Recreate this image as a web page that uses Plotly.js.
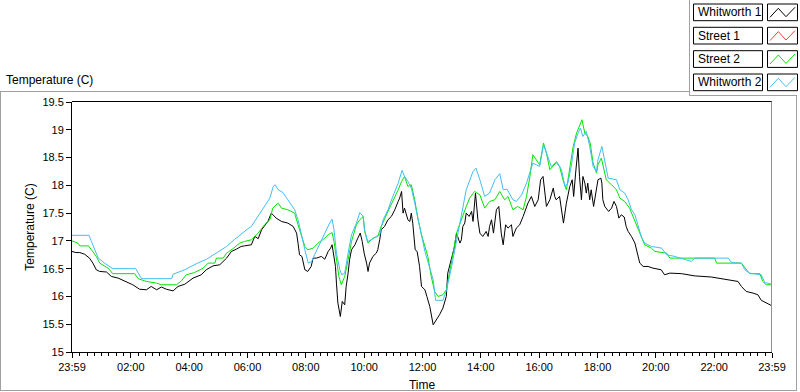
<!DOCTYPE html>
<html><head><meta charset="utf-8">
<script src="https://cdn.plot.ly/plotly-3.0.1.min.js"></script>
<style>html,body{margin:0;padding:0;background:#fff}#chart{width:800px;height:392px}</style>
</head><body><div id="chart"></div>
<script>
// Time = minutes after 23:59 (start of record); values in degrees C
const seriesNames = ["Whitworth 1", "Street 1", "Street 2", "Whitworth 2"];
const seriesColors = ["#000000", "#ff3b3b", "#00e600", "#42bdf5"];

const whitworth1T = [0,8,16,26,36,43,50,57,71,81,
95,112,125,139,153,163,174,184,194,208,
218,232,249,266,276,290,304,318,328,338,
348,355,369,376,383,390,396,403,410,420,
431,444,455,462,465,468,473,479,485,492,
496,503,513,520,527,532,535,539,542,544,
547,552,556,561,564,568,571,575,582,588,
593,597,601,606,609,612,619,626,629,633,
636,643,650,657,664,671,674,678,681,684,
691,695,698,701,706,710,715,719,726,730,
736,743,750,756,763,770,773,780,787,791,
798,801,804,808,811,817,822,825,828,830,
835,839,845,852,856,859,863,867,873,878,
883,887,892,897,904,907,914,921,928,933,
938,945,952,959,964,969,972,976,983,990,
993,996,1003,1007,1011,1017,1024,1029,1032,1036,
1041,1044,1048,1051,1055,1058,1061,1065,1068,1073,
1079,1082,1088,1090,1092,1096,1104,1110,1115,1120,
1125,1130,1136,1140,1144,1151,1158,1164,1168,1175,
1185,1195,1212,1219,1230,1254,1281,1315,1349,1370,
1377,1387,1401,1411,1418,1428,1440];
const whitworth1V = [16.81,16.79,16.79,16.76,16.69,16.60,16.48,16.45,16.44,16.36,
16.33,16.27,16.21,16.13,16.12,16.18,16.12,16.17,16.13,16.10,
16.18,16.22,16.33,16.39,16.48,16.55,16.57,16.69,16.81,16.85,
16.90,16.91,16.93,17.08,17.04,17.20,17.26,17.35,17.50,17.41,
17.35,17.32,17.26,17.14,16.96,16.75,16.72,16.48,16.45,16.54,
16.69,16.69,16.72,16.67,16.81,16.87,16.93,16.72,16.54,16.24,
15.88,15.64,15.91,15.85,16.18,16.42,16.66,16.84,16.93,17.05,
17.14,16.99,16.78,16.60,16.45,16.60,16.72,16.78,16.84,17.02,
17.20,17.26,17.38,17.44,17.56,17.71,17.77,17.89,17.50,17.59,
17.38,17.35,17.50,17.32,16.84,16.81,16.54,16.18,16.12,16.00,
15.82,15.49,15.58,15.67,15.79,16.00,16.42,16.66,16.90,17.14,
16.96,17.02,17.26,17.32,17.50,17.44,17.53,17.35,17.68,17.86,
17.38,17.14,17.08,17.17,17.08,17.26,17.38,17.14,17.56,17.62,
17.14,16.93,17.29,17.23,17.29,17.08,17.23,17.29,17.44,17.56,
17.68,17.80,17.62,17.74,18.10,18.16,17.92,17.62,17.74,17.95,
17.80,17.74,17.80,17.56,17.32,17.68,17.98,18.10,17.80,18.22,
18.67,18.16,17.74,18.16,18.04,17.86,18.04,17.74,17.92,17.62,
17.92,18.10,18.13,18.04,17.74,17.62,17.53,17.59,17.71,17.62,
17.41,17.47,17.43,17.26,17.17,17.08,16.96,16.72,16.60,16.54,
16.54,16.51,16.48,16.39,16.42,16.41,16.37,16.35,16.30,16.27,
16.18,16.09,16.06,16.03,15.93,15.89,15.83];

const street1T = [];
const street1V = [];

const street2T = [0,12,16,34,40,50,57,74,84,129,
136,153,174,184,215,225,235,252,270,280,
294,297,311,318,331,345,355,369,383,396,
407,413,424,431,444,458,465,472,479,485,
496,506,516,527,535,539,544,549,554,561,
568,575,585,592,599,602,609,619,629,636,
650,660,671,678,684,691,698,705,712,719,
726,732,739,746,753,763,770,777,784,791,
798,804,811,818,828,839,849,859,870,880,
890,897,907,917,928,935,942,948,957,962,
970,976,983,989,996,1003,1010,1017,1024,1031,
1038,1044,1049,1055,1061,1066,1072,1079,1082,1089,
1096,1099,1110,1120,1127,1137,1147,1154,1164,1171,
1178,1192,1199,1223,1230,1322,1326,1377,1387,1394,
1415,1421,1428,1440];
const street2V = [17.00,16.96,16.91,16.91,16.84,16.72,16.60,16.51,16.41,16.41,
16.32,16.27,16.24,16.21,16.21,16.28,16.39,16.43,16.51,16.60,
16.60,16.69,16.69,16.78,16.86,16.96,16.99,17.02,17.14,17.29,
17.38,17.59,17.68,17.59,17.56,17.50,17.29,17.11,16.90,16.84,
16.87,16.96,17.02,17.11,17.15,16.99,16.66,16.36,16.21,16.36,
16.66,16.99,17.29,17.38,17.44,17.17,16.96,17.05,17.08,17.26,
17.53,17.71,17.92,18.07,18.16,17.98,18.01,17.74,17.38,17.11,
16.88,16.72,16.36,16.09,16.00,16.03,16.12,16.42,16.78,17.14,
17.32,17.44,17.62,17.77,17.89,17.83,17.59,17.71,17.74,17.89,
17.74,17.80,17.56,17.62,17.56,17.80,18.16,18.55,18.43,18.37,
18.76,18.58,18.28,18.34,18.41,18.34,18.10,17.92,18.34,18.70,
18.94,19.06,19.18,18.94,18.88,18.76,18.40,18.22,18.37,18.49,
18.25,18.10,18.01,17.92,17.77,17.71,17.59,17.44,17.26,17.08,
16.93,16.87,16.81,16.78,16.69,16.69,16.60,16.60,16.48,16.41,
16.41,16.27,16.21,16.21];

const whitworth2T = [0,35,40,47,54,67,84,131,134,143,
205,208,232,256,277,297,318,335,355,362,
369,383,396,407,414,418,424,434,444,458,
465,472,479,486,493,499,510,520,530,535,
539,544,551,555,561,568,575,585,592,599,
602,608,616,626,633,640,650,660,671,679,
684,691,698,705,712,719,726,743,748,763,
770,781,791,801,811,825,831,839,849,859,
870,880,887,895,907,914,925,935,948,955,
962,970,976,986,997,1007,1014,1020,1027,1034,
1041,1046,1051,1058,1065,1072,1079,1082,1090,1096,
1103,1120,1127,1137,1144,1151,1158,1164,1171,1178,
1192,1213,1223,1240,1274,1281,1350,1357,1377,1384,
1394,1418,1425,1440];
const whitworth2V = [17.10,17.10,16.99,16.84,16.69,16.60,16.50,16.50,16.45,16.32,
16.32,16.40,16.48,16.59,16.67,16.78,16.90,17.03,17.18,17.22,
17.26,17.44,17.62,17.77,17.98,18.01,17.92,17.87,17.74,17.56,
17.38,17.08,16.84,16.60,16.63,16.75,16.96,17.14,17.32,17.39,
17.20,16.78,16.48,16.39,16.42,16.78,17.11,17.32,17.51,17.44,
17.20,16.99,17.02,17.08,17.11,17.38,17.56,17.80,18.04,18.27,
18.16,18.07,17.95,17.68,17.38,17.08,16.81,16.30,15.93,15.93,
16.10,16.54,17.02,17.50,17.92,18.25,18.31,18.10,17.80,17.86,
18.10,18.21,17.92,17.93,17.74,17.71,17.83,18.04,18.40,18.37,
18.34,18.73,18.58,18.34,18.43,18.28,17.98,18.04,18.34,18.76,
18.94,19.03,18.88,18.97,18.70,18.34,18.25,18.46,18.70,18.43,
18.13,18.10,17.92,17.86,17.74,17.56,17.47,17.29,17.08,16.96,
16.90,16.87,16.75,16.72,16.63,16.69,16.69,16.61,16.60,16.48,
16.42,16.39,16.25,16.22];

const xTickVals = [0,121,241,361,481,601,721,841,961,1081,1201,1321,1440];
const xTickText = ["23:59","02:00","04:00","06:00","08:00","10:00","12:00","14:00","16:00","18:00","20:00","22:00","23:59"];
const yTickVals = [15,15.5,16,16.5,17,17.5,18,18.5,19,19.5];

// ---- layout helpers (pixel -> paper) ----
const L = 72, T = 102, W = 700, H = 250;
const px = x => (x - L) / W;
const py = y => (T + H - y) / H;
const FONT = "Liberation Sans, Arial, sans-serif";

const allT = [whitworth1T, street1T, street2T, whitworth2T];
const allV = [whitworth1V, street1V, street2V, whitworth2V];
// black & red on the minor-tick axis (x), green & blue on the labelled overlay axis (x2)
const axisOf = ["x", "x", "x2", "x2"];
const traces = seriesNames.map((n, i) => ({
  type: "scatter", mode: "lines", name: n,
  x: allT[i], y: allV[i], xaxis: axisOf[i], yaxis: "y",
  line: {color: seriesColors[i], width: 1},
  hoverinfo: "skip", showlegend: false
}));

const shapes = [];
const annotations = [];
function line(x0, y0, x1, y1, color) {
  shapes.push({type: "line", xref: "paper", yref: "paper", x0: px(x0), y0: py(y0), x1: px(x1), y1: py(y1),
    line: {color: color, width: 1}, layer: "above"});
}
// outer frame
line(0, 91.5, 689.5, 91.5, "#a0a0a0");
line(0.5, 91.5, 0.5, 391, "#a0a0a0");
line(0, 390.5, 797, 390.5, "#a0a0a0");
line(796.5, 95.5, 796.5, 391, "#a0a0a0");
line(689.5, 0, 689.5, 95.5, "#a0a0a0");
line(689.5, 95.5, 797, 95.5, "#a0a0a0");
// plot frame top/right
line(72, 101.5, 772, 101.5, "#000000");
line(771.5, 101.5, 771.5, 352, "#909090");

// legend
const rowTops = [4, 27.3, 50.7, 74];
seriesNames.forEach((n, i) => {
  const t0 = rowTops[i], b0 = t0 + 16.7;
  shapes.push({type: "rect", xref: "paper", yref: "paper", x0: px(693.5), x1: px(762.5), y0: py(t0), y1: py(b0),
    line: {color: "#000", width: 1}, fillcolor: "#fff"});
  shapes.push({type: "rect", xref: "paper", yref: "paper", x0: px(767.5), x1: px(797.5), y0: py(t0), y1: py(b0),
    line: {color: "#000", width: 1}, fillcolor: "#fff"});
  const zz = [[770, 13.3], [778.3, 4.3], [786, 12.7], [795, 3.3]];
  const path = zz.map((p, k) => (k ? "L" : "M") + px(p[0]).toFixed(5) + "," + py(t0 + p[1]).toFixed(5)).join(" ");
  shapes.push({type: "path", xref: "paper", yref: "paper", path: path, line: {color: seriesColors[i], width: 1}});
  annotations.push({xref: "paper", yref: "paper", x: px(696), y: py(t0 + 8.5), xanchor: "left", yanchor: "middle",
    text: n, showarrow: false, font: {family: FONT, size: 12, color: "#000"}});
});
// plot label
annotations.push({xref: "paper", yref: "paper", x: px(4), y: py(80.5), xanchor: "left", yanchor: "middle",
  text: "Temperature (C)", showarrow: false, font: {family: FONT, size: 12, color: "#000"}});

const layout = {
  width: 800, height: 392,
  margin: {l: L, r: 800 - L - W, t: T, b: 392 - T - H, pad: 0},
  paper_bgcolor: "#ffffff", plot_bgcolor: "#ffffff",
  font: {family: FONT, size: 11, color: "#000"},
  xaxis: {
    range: [0, 1440], tickmode: "linear", tick0: 1, dtick: 15,
    ticks: "outside", ticklen: 3, tickcolor: "#000", tickwidth: 1, showticklabels: false,
    showgrid: false, zeroline: false, showline: true, linecolor: "#000", linewidth: 1
  },
  xaxis2: {
    overlaying: "x", anchor: "y", side: "bottom", range: [0, 1440],
    tickmode: "array", tickvals: xTickVals, ticktext: xTickText,
    ticks: "outside", ticklen: 5, tickcolor: "#000", tickwidth: 1,
    showgrid: false, zeroline: false, showline: false,
    tickfont: {family: FONT, size: 11, color: "#000"},
    title: {text: "Time", font: {family: FONT, size: 12, color: "#000"}, standoff: 8}
  },
  yaxis: {
    range: [15, 19.5], tickmode: "array", tickvals: yTickVals,
    ticks: "outside", ticklen: 5, tickcolor: "#000", tickwidth: 1,
    showgrid: false, zeroline: false, showline: true, linecolor: "#000", linewidth: 1,
    tickfont: {family: FONT, size: 11, color: "#000"},
    title: {text: "Temperature (C)", font: {family: FONT, size: 12, color: "#000"}, standoff: 5}
  },
  shapes: shapes, annotations: annotations, showlegend: false
};

Plotly.newPlot("chart", traces, layout, {displayModeBar: false, staticPlot: true});
</script></body></html>
